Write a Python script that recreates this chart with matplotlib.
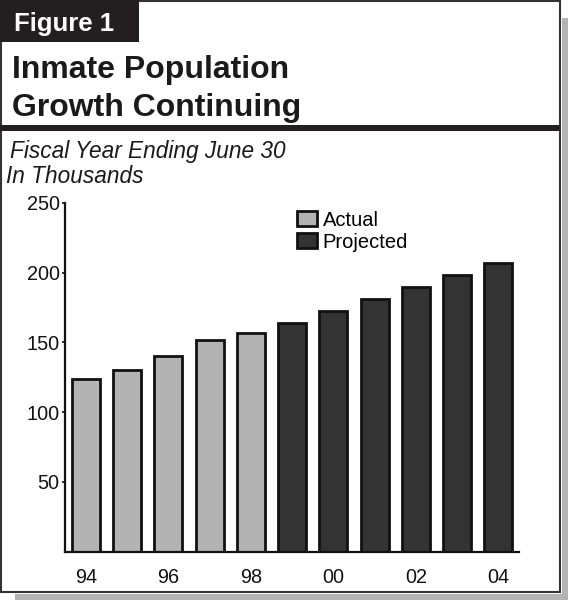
import matplotlib.pyplot as plt
from matplotlib.patches import Rectangle
import numpy as np

# fiscal years ending June 30, population in thousands
years = ['94', '95', '96', '97', '98', '99', '00', '01', '02', '03', '04']
actual = [124, 130.5, 140, 152, 157]
projected = [164, 172.5, 181, 190, 198.5, 207]
yticks = [50, 100, 150, 200, 250]

plt.rcParams['font.family'] = ['Liberation Sans', 'DejaVu Sans']

W, H = 568, 600
fig = plt.figure(figsize=(W / 100, H / 100), dpi=100)


def box(x0, y0, x1, y1, **kw):
    # rectangle given in pixel coords (top-left origin)
    fig.patches.append(Rectangle((x0 / W, 1 - y1 / H), (x1 - x0) / W, (y1 - y0) / H,
                                 transform=fig.transFigure, figure=fig, zorder=-5, **kw))


# drop shadow + frame
box(562, 18, 568, 600, facecolor='#b3b3b3', edgecolor='none')
box(15, 594, 568, 600, facecolor='#b3b3b3', edgecolor='none')
box(1, 1, 560, 592, facecolor='white', edgecolor='#333333', linewidth=1.5)

# header
box(0, 0, 139, 42, facecolor='#231f20', edgecolor='none')
box(0, 125, 560, 131, facecolor='#231f20', edgecolor='none')
fig.text(14 / W, 1 - 31 / H, 'Figure 1', color='white', fontsize=18.5,
         fontweight='bold', va='baseline')
fig.text(12 / W, 1 - 78 / H, 'Inmate Population', color='#1a1a1a', fontsize=23,
         fontweight='bold', va='baseline')
fig.text(12 / W, 1 - 116.5 / H, 'Growth Continuing', color='#1a1a1a', fontsize=23,
         fontweight='bold', va='baseline')
fig.text(10 / W, 1 - 158 / H, 'Fiscal Year Ending June 30', color='#1a1a1a',
         fontsize=16.3, style='italic', va='baseline')
fig.text(6 / W, 1 - 183 / H, 'In Thousands', color='#1a1a1a',
         fontsize=16.3, style='italic', va='baseline')

ax = fig.add_axes([65.3 / W, 1 - 551.5 / H, (519 - 65.3) / W, 348.5 / H])
ax.patch.set_alpha(0)

x = np.arange(len(years))
n_act = len(actual)
ax.bar(x[:n_act], actual, width=0.68, color='#b3b3b3', edgecolor='#111111',
       linewidth=2.0, label='Actual')
ax.bar(x[n_act:], projected, width=0.68, color='#333333', edgecolor='#111111',
       linewidth=2.0, label='Projected')

ax.set_xlim(-0.5, len(years) - 0.5)
ax.set_ylim(0, 250)
ax.set_yticks(yticks)
ax.set_xticks(x[::2])
ax.set_xticklabels(years[::2])
ax.tick_params(axis='y', length=2.5, width=1.2, pad=1.5, labelsize=14.3, colors='#111111')
ax.tick_params(axis='x', length=0, pad=12, labelsize=14.3, colors='#111111')
for s in ['top', 'right']:
    ax.spines[s].set_visible(False)
for s in ['left', 'bottom']:
    ax.spines[s].set_linewidth(1.6)
    ax.spines[s].set_color('#111111')

ax.legend(loc='upper left', bbox_to_anchor=(0.51, 0.978), frameon=False, fontsize=14.5,
          handlelength=1.0, handleheight=0.8, handletextpad=0.3, labelspacing=0.15,
          borderpad=0, borderaxespad=0)

fig.savefig('out.png', dpi=100)
